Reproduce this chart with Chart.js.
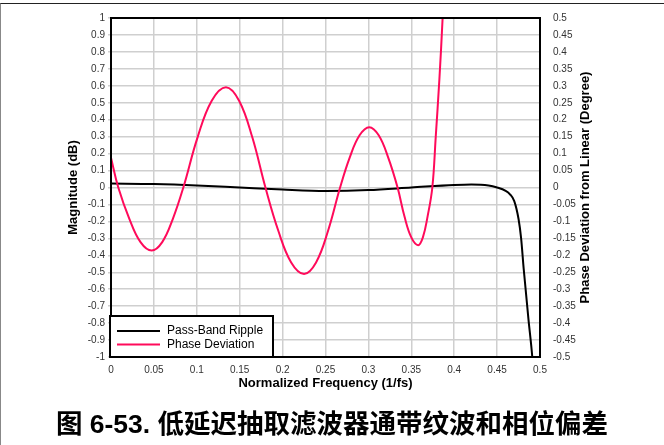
<!DOCTYPE html>
<html>
<head>
<meta charset="utf-8">
<title>Pass-Band Ripple and Phase Deviation</title>
<script src="https://cdn.jsdelivr.net/npm/chart.js@4.4.1/dist/chart.umd.min.js"></script>
<style>
	html, body { margin: 0; padding: 0; background: #fff; }
	#wrap { position: relative; width: 664px; height: 445px; overflow: hidden; }
	#frame {
		position: absolute; left: 0; top: 3px; width: 664px; height: 442px;
		border-top: 1.5px solid #222; border-left: 1.5px solid #888; box-sizing: border-box;
	}
	#chart { position: absolute; left: 0; top: 0; }
	#caption {
		position: absolute; left: 0; top: 402px; width: 664px; height: 30px;
		line-height: 30px; text-align: center; color: #000;
		font: bold 26.5px "Liberation Sans", "Noto Sans CJK SC", sans-serif;
	}
</style>
</head>
<body>
<div id="wrap">
	<div id="frame"></div>
	<canvas id="chart" width="664" height="445"></canvas>
	<div id="caption">图 6-53. 低延迟抽取滤波器通带纹波和相位偏差</div>
</div>
<script>
/* global Chart */
'use strict';

// Pass-band ripple (dB).
var magFreq = [0, 0.05, 0.1, 0.15, 0.2, 0.25, 0.3, 0.35, 0.4, 0.42, 0.44, 0.45, 0.46, 0.465, 0.47, 0.475, 0.478, 0.481, 0.4865, 0.491, 0.493];
var magDb   = [0.023, 0.02, 0.012, 0.0, -0.012, -0.02, -0.015, 0.0, 0.015, 0.018, 0.012, 0.0, -0.02, -0.04, -0.08, -0.186, -0.3, -0.48, -0.775, -1.0, -1.15];

// Phase deviation from linear (degree).
var phaseFreq = [0, 0.0085, 0.0215, 0.0344, 0.0474, 0.0597, 0.072, 0.0843, 0.1009, 0.1174, 0.134, 0.1493, 0.1647, 0.18,
	0.195, 0.21, 0.225, 0.239, 0.253, 0.267, 0.2783, 0.2897, 0.301, 0.312, 0.323, 0.334, 0.342, 0.35, 0.358, 0.3635, 0.369, 0.3745,
	0.3785, 0.3827, 0.3865, 0.39];
var phaseDeg  = [0.088, 0, -0.093, -0.161, -0.186, -0.161, -0.093, 0, 0.148, 0.256, 0.296, 0.256, 0.148, 0,
	-0.1275, -0.221, -0.255, -0.221, -0.1275, 0, 0.089, 0.154, 0.178, 0.154, 0.089, 0, -0.085, -0.147, -0.17, -0.147, -0.085, 0,
	0.15, 0.318, 0.5, 0.7];

// Tick labels.
var xTicks     = [0, 0.05, 0.1, 0.15, 0.2, 0.25, 0.3, 0.35, 0.4, 0.45, 0.5];
var magTicks   = [-1, -0.9, -0.8, -0.7, -0.6, -0.5, -0.4, -0.3, -0.2, -0.1, 0, 0.1, 0.2, 0.3, 0.4, 0.5, 0.6, 0.7, 0.8, 0.9, 1];
var phaseTicks = [-0.5, -0.45, -0.4, -0.35, -0.3, -0.25, -0.2, -0.15, -0.1, -0.05, 0, 0.05, 0.1, 0.15, 0.2, 0.25, 0.3, 0.35, 0.4, 0.45, 0.5];

var seriesLabels = ['Pass-Band Ripple', 'Phase Deviation'];

var COLORS = {
	mag:   '#000000',
	phase: '#ff0a5a',
	grid:  '#cfcfcf',
	tick:  '#333333',
	text:  '#000000'
};
var FONT = '"Liberation Sans", Arial, sans-serif';

function toPoints(xs, ys) {
	return xs.map(function (x, i) { return { x: x, y: ys[i] }; });
}

function fixedTicks(values) {
	return function (scale) {
		scale.ticks = values.map(function (v) { return { value: v }; });
	};
}

// Plot frame, inset legend and the right-hand axis title (reads bottom to top).
var overlay = {
	id: 'overlay',
	afterDatasetsDraw: function (chart) {
		var ctx = chart.ctx;
		var a = chart.chartArea;
		ctx.save();
		ctx.lineWidth = 2;
		ctx.strokeStyle = '#000';
		ctx.strokeRect(a.left, a.top, a.right - a.left, a.bottom - a.top);

		var bx = a.left - 1, bh = 41, by = a.bottom - bh, bw = 163;
		ctx.fillStyle = '#fff';
		ctx.fillRect(bx, by, bw, bh);
		ctx.strokeRect(bx, by, bw, bh);
		ctx.font = '12px ' + FONT;
		ctx.textBaseline = 'middle';
		chart.data.datasets.forEach(function (ds, i) {
			var y = by + 15 + i * 13.5;
			ctx.beginPath();
			ctx.moveTo(bx + 7, y);
			ctx.lineTo(bx + 50, y);
			ctx.strokeStyle = ds.borderColor;
			ctx.stroke();
			ctx.fillStyle = COLORS.text;
			ctx.fillText(ds.label, bx + 57, y);
		});

		ctx.translate(585, (a.top + a.bottom) / 2);
		ctx.rotate(-Math.PI / 2);
		ctx.textAlign = 'center';
		ctx.font = 'bold 13px ' + FONT;
		ctx.fillText('Phase Deviation from Linear (Degree)', 0, 0);
		ctx.restore();
	}
};

new Chart(document.getElementById('chart'), {
	type: 'line',
	data: {
		datasets: [{
			label: seriesLabels[0],
			data: toPoints(magFreq, magDb),
			yAxisID: 'y',
			borderColor: COLORS.mag,
			borderWidth: 2,
			pointRadius: 0,
			cubicInterpolationMode: 'monotone',
			order: 2
		}, {
			label: seriesLabels[1],
			data: toPoints(phaseFreq, phaseDeg),
			yAxisID: 'y1',
			borderColor: COLORS.phase,
			borderWidth: 2,
			pointRadius: 0,
			tension: 0.4,
			order: 1
		}]
	},
	options: {
		responsive: false,
		animation: false,
		layout: { padding: { left: 60, right: 0, top: 18, bottom: 48 } },
		plugins: {
			legend: { display: false },
			tooltip: { enabled: false }
		},
		scales: {
			x: {
				type: 'linear',
				min: 0,
				max: 0.5,
				afterBuildTicks: fixedTicks(xTicks),
				afterFit: function (s) { s.height = 40; },
				grid: { color: COLORS.grid, lineWidth: 1.5, drawTicks: false },
				border: { display: false },
				ticks: {
					padding: 7,
					color: COLORS.tick,
					font: { family: FONT, size: 10 },
					maxRotation: 0,
					callback: function (v) { return String(v); }
				},
				title: {
					display: true,
					text: 'Normalized Frequency (1/fs)',
					color: COLORS.text,
					font: { family: FONT, size: 13, weight: 'bold' },
					padding: { top: 0, bottom: 6 }
				}
			},
			y: {
				position: 'left',
				min: -1,
				max: 1,
				afterBuildTicks: fixedTicks(magTicks),
				afterFit: function (s) { s.width = 51; },
				grid: { color: COLORS.grid, lineWidth: 1.5, tickLength: 3 },
				border: { display: false },
				ticks: {
					padding: 3,
					color: COLORS.tick,
					font: { family: FONT, size: 10 },
					callback: function (v) { return String(v); }
				},
				title: {
					display: true,
					text: 'Magnitude (dB)',
					color: COLORS.text,
					font: { family: FONT, size: 13, weight: 'bold' },
					padding: { top: 6, bottom: 0 }
				}
			},
			y1: {
				position: 'right',
				min: -0.5,
				max: 0.5,
				afterBuildTicks: fixedTicks(phaseTicks),
				afterFit: function (s) { s.width = 124; },
				grid: { display: false },
				border: { display: false },
				ticks: {
					padding: 5,
					color: COLORS.tick,
					font: { family: FONT, size: 10 },
					callback: function (v) { return String(v); }
				}
			}
		}
	},
	plugins: [overlay]
});
</script>
</body>
</html>
